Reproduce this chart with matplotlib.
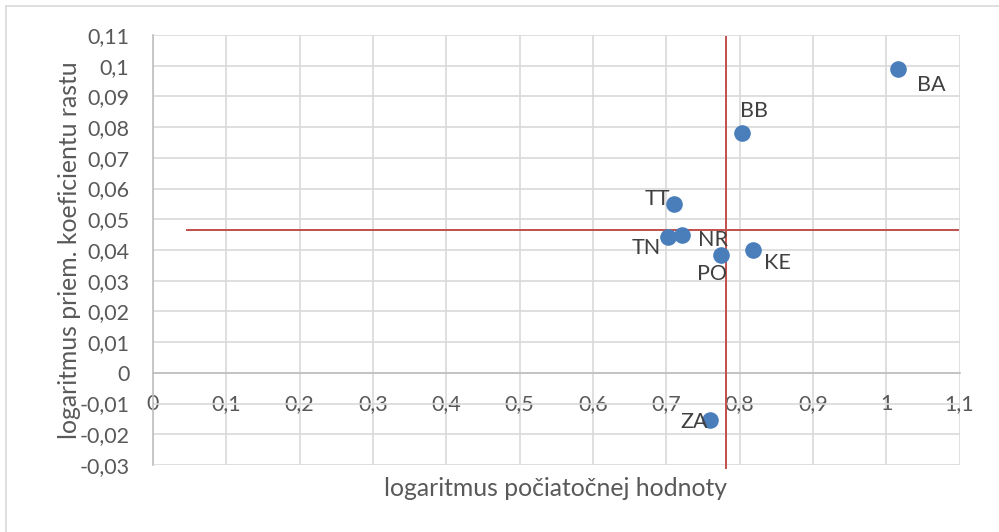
import matplotlib
matplotlib.use("Agg")
from matplotlib import pyplot as plt
from matplotlib.lines import Line2D
from matplotlib.ticker import FuncFormatter, MultipleLocator

plt.rcParams['font.family'] = ['Lato', 'DejaVu Sans']

# regions: log of initial value (x) vs log of avg growth coefficient (y)
regions = ['BA', 'BB', 'TT', 'TN', 'NR', 'PO', 'KE', 'ZA']
log_init = [1.016, 0.804, 0.711, 0.702, 0.722, 0.775, 0.819, 0.760]
log_growth = [0.0990, 0.0780, 0.0550, 0.0443, 0.0450, 0.0383, 0.0400, -0.0155]
# label offsets in pixels (dx, dy), picked by eye
label_off = [(33, -16), (12, 22), (-17, 5), (-21, -11), (31, -5), (-9, -19), (24, -13), (-16, -2)]

# red reference lines (means)
mean_x = 0.782
mean_y = 0.0466
hline_x = [0.046, 1.098]
vline_y = [-0.031, 0.1095]

txt_col = '#595959'
grid_col = '#d9d9d9'

fig = plt.figure(figsize=(9.99, 5.32), dpi=100)
ax = fig.add_axes([153/999, 1-465/532, 806.5/999, 430/532])

ax.set_xlim(0, 1.1)
ax.set_ylim(-0.03, 0.11)
ax.xaxis.set_major_locator(MultipleLocator(0.1))
ax.yaxis.set_major_locator(MultipleLocator(0.01))

def comma_fmt(v, pos):
    s = ('%.2f' % v).rstrip('0').rstrip('.')
    if s == '-0':
        s = '0'
    return s.replace('.', ',')

ax.xaxis.set_major_formatter(FuncFormatter(comma_fmt))
ax.yaxis.set_major_formatter(FuncFormatter(comma_fmt))

ax.grid(True, color=grid_col, linewidth=1.2)
ax.set_axisbelow(True)
for s in ['top', 'right']:
    ax.spines[s].set_visible(False)
ax.spines['bottom'].set_position(('data', 0))
ax.spines['bottom'].set_color('#bfbfbf')
ax.spines['left'].set_color('#bfbfbf')
ax.spines['bottom'].set_linewidth(1.2)
ax.spines['left'].set_linewidth(1.2)
ax.tick_params(axis='both', length=0, labelsize=15.5, labelcolor=txt_col)
ax.tick_params(axis='x', pad=15)
ax.tick_params(axis='y', pad=17)

ax.plot(hline_x, [mean_y, mean_y], color='#c0504d', linewidth=1.4, zorder=3)
ax.plot([mean_x, mean_x], vline_y, color='#c0504d', linewidth=1.4, zorder=3, clip_on=False)

ax.scatter(log_init, log_growth, s=120, color='#4a7ebb', zorder=4, clip_on=False)

for name, x, y, (dx, dy) in zip(regions, log_init, log_growth, label_off):
    ax.annotate(name, (x, y), xytext=(dx, dy), textcoords='offset pixels',
                ha='center', va='center', fontsize=15.5, color='#404040', zorder=5)

fig.text(555/999, 1-488/532, 'logaritmus počiatočnej hodnoty', ha='center', va='center',
         fontsize=17.8, color=txt_col)
fig.text(70/999, 1-250/532, 'logaritmus priem. koeficientu rastu', ha='center', va='center',
         rotation=90, fontsize=17.8, color=txt_col)

# chart frame (only left and top edges show in the crop)
fig.add_artist(Line2D([6/999, 6/999], [0, 1-6/532], color=grid_col, linewidth=1.2))
fig.add_artist(Line2D([6/999, 1], [1-6/532, 1-6/532], color=grid_col, linewidth=1.2))

fig.savefig('out.png', dpi=100)
